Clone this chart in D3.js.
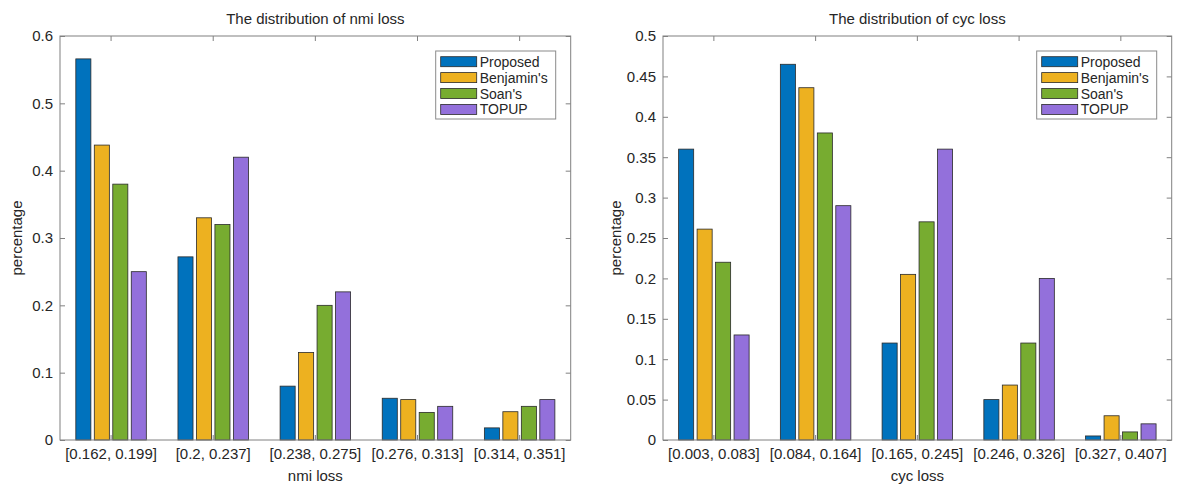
<!DOCTYPE html>
<html>
<head>
<meta charset="utf-8">
<script src="https://cdn.jsdelivr.net/npm/d3@7"></script>
<style>
  body { margin: 0; background: #fff; }
  text { font-family: Arial, "Liberation Sans", sans-serif; fill: #262626; }
</style>
</head>
<body>
<div id="chart"></div>
<script>
// data
const methods = ["Proposed", "Benjamin's", "Soan's", "TOPUP"];
const colors = ["#0072BD", "#EDB120", "#77AC30", "#9370DB"];

const nmiBins = ["[0.162, 0.199]", "[0.2, 0.237]", "[0.238, 0.275]", "[0.276, 0.313]", "[0.314, 0.351]"];
const nmiProposed = [0.566, 0.272, 0.080, 0.062, 0.018];
const nmiBenjamin = [0.438, 0.330, 0.130, 0.060, 0.042];
const nmiSoan = [0.380, 0.320, 0.200, 0.041, 0.050];
const nmiTopup = [0.250, 0.420, 0.220, 0.050, 0.060];
const nmiTicks = [0, 0.1, 0.2, 0.3, 0.4, 0.5, 0.6];

const cycBins = ["[0.003, 0.083]", "[0.084, 0.164]", "[0.165, 0.245]", "[0.246, 0.326]", "[0.327, 0.407]"];
const cycProposed = [0.360, 0.465, 0.120, 0.050, 0.005];
const cycBenjamin = [0.261, 0.436, 0.205, 0.068, 0.030];
const cycSoan = [0.220, 0.380, 0.270, 0.120, 0.010];
const cycTopup = [0.130, 0.290, 0.360, 0.200, 0.020];
const cycTicks = [0, 0.05, 0.1, 0.15, 0.2, 0.25, 0.3, 0.35, 0.4, 0.45, 0.5];

const svg = d3.select("#chart")
    .append("svg")
    .attr("width", 1184)
    .attr("height", 489);

svg.append("rect").attr("width", 1184).attr("height", 489).attr("fill", "#fff");

function drawChart(opt) {
    const left = opt.left, right = opt.right, top = 36, bottom = 440;

    const series = [opt.proposed, opt.benjamin, opt.soan, opt.topup];

    const x0 = d3.scaleBand()
        .domain(opt.bins)
        .range([left, right])
        .padding(0);

    const groupW = 70.5;
    const x1 = d3.scaleBand()
        .domain(methods)
        .range([-groupW / 2, groupW / 2])
        .paddingInner(0.185);

    const y = d3.scaleLinear()
        .domain([0, opt.ymax])
        .range([bottom, top]);

    const color = d3.scaleOrdinal().domain(methods).range(colors);

    const g = svg.append("g");

    // ticks point inward like matlab
    const yAx = g.append("g")
        .attr("transform", `translate(${left},0)`)
        .call(d3.axisLeft(y).tickValues(opt.ticks).tickSize(-5).tickPadding(7).tickFormat(d3.format("")));
    const yAxR = g.append("g")
        .attr("transform", `translate(${right},0)`)
        .call(d3.axisRight(y).tickValues(opt.ticks).tickSize(-5).tickFormat(""));
    const xAx = g.append("g")
        .attr("transform", `translate(0,${bottom})`)
        .call(d3.axisBottom(x0).tickSize(-5).tickPadding(8));
    const xAxT = g.append("g")
        .attr("transform", `translate(0,${top})`)
        .call(d3.axisTop(x0).tickSize(-5).tickFormat(""));

    g.selectAll(".domain").remove();
    g.selectAll(".tick line").attr("stroke", "#808080");
    g.selectAll(".tick text")
        .attr("font-size", 15)
        .attr("fill", "#262626")
        .style("font-family", "Arial, 'Liberation Sans', sans-serif");

    // bars
    const groups = g.append("g")
        .selectAll("g")
        .data(opt.bins)
        .join("g")
        .attr("transform", d => `translate(${x0(d) + x0.bandwidth() / 2},0)`);

    groups.selectAll("rect")
        .data((d, i) => methods.map((m, j) => ({ key: m, value: series[j][i] })))
        .join("rect")
        .attr("x", d => x1(d.key))
        .attr("width", x1.bandwidth())
        .attr("y", d => y(d.value))
        .attr("height", d => y(0) - y(d.value))
        .attr("fill", d => color(d.key))
        .attr("stroke", "#2a2a2a")
        .attr("stroke-width", 0.8);

    // box
    g.append("rect")
        .attr("x", left)
        .attr("y", top)
        .attr("width", right - left)
        .attr("height", bottom - top)
        .attr("fill", "none")
        .attr("stroke", "#808080")
        .attr("stroke-width", 1);

    // title and labels
    g.append("text")
        .attr("x", (left + right) / 2)
        .attr("y", 24)
        .attr("text-anchor", "middle")
        .attr("font-size", 15)
        .text(opt.title);

    g.append("text")
        .attr("x", (left + right) / 2)
        .attr("y", 481)
        .attr("text-anchor", "middle")
        .attr("font-size", 15)
        .text(opt.xlabel);

    g.append("text")
        .attr("transform", `translate(${opt.ylabelX},${(top + bottom) / 2}) rotate(-90)`)
        .attr("text-anchor", "middle")
        .attr("font-size", 15)
        .text("percentage");

    // legend
    const lw = 120, lh = 68;
    const lx = right - 15 - lw, ly = top + 15;
    const leg = g.append("g").attr("transform", `translate(${lx},${ly})`);
    leg.append("rect")
        .attr("width", lw)
        .attr("height", lh)
        .attr("fill", "#fff")
        .attr("stroke", "#8a8a8a");

    const items = leg.selectAll(".item")
        .data(methods)
        .join("g")
        .attr("class", "item")
        .attr("transform", (d, i) => `translate(5,${10.7 + i * 15.9})`);

    items.append("rect")
        .attr("x", 0)
        .attr("y", -5)
        .attr("width", 36)
        .attr("height", 10)
        .attr("fill", d => color(d))
        .attr("stroke", "#2a2a2a")
        .attr("stroke-width", 0.8);

    items.append("text")
        .attr("x", 39)
        .attr("y", 5)
        .attr("font-size", 14)
        .text(d => d);
}

drawChart({
    left: 60, right: 570.7, ymax: 0.6, ticks: nmiTicks, bins: nmiBins,
    proposed: nmiProposed, benjamin: nmiBenjamin, soan: nmiSoan, topup: nmiTopup,
    title: "The distribution of nmi loss", xlabel: "nmi loss", ylabelX: 22
});

drawChart({
    left: 663, right: 1171.7, ymax: 0.5, ticks: cycTicks, bins: cycBins,
    proposed: cycProposed, benjamin: cycBenjamin, soan: cycSoan, topup: cycTopup,
    title: "The distribution of cyc loss", xlabel: "cyc loss", ylabelX: 621
});
</script>
</body>
</html>
